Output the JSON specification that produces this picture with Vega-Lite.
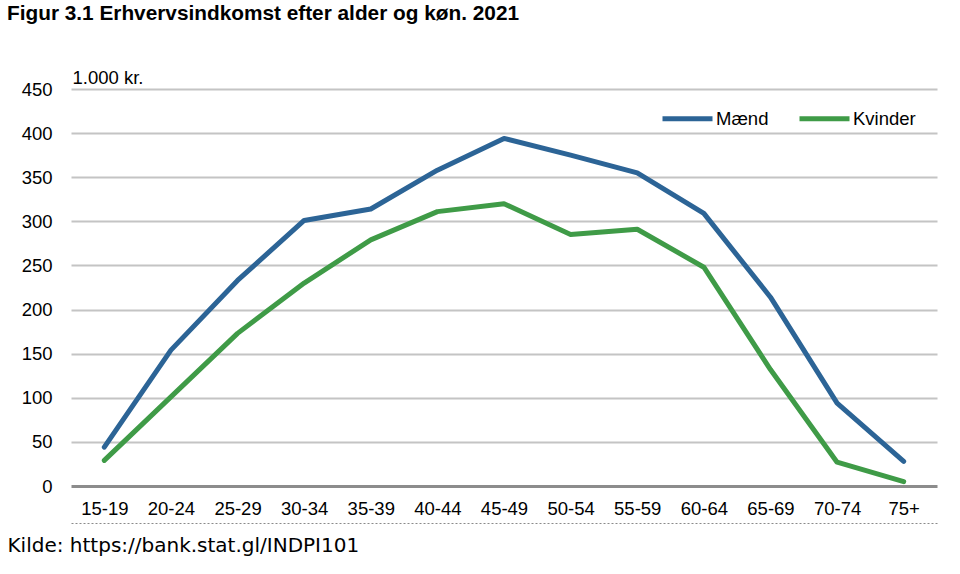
{
  "$schema": "https://vega.github.io/schema/vega-lite/v6.json",
  "width": 866,
  "height": 397,
  "autosize": {"type": "none"},
  "padding": {"left": 71, "top": 89, "right": 23, "bottom": 88},
  "background": "white",
  "title": {
    "text": "Figur 3.1 Erhvervsindkomst efter alder og køn. 2021",
    "anchor": "start",
    "frame": "group",
    "dx": -64,
    "offset": 43,
    "font": "Liberation Sans",
    "fontSize": 20.8,
    "fontWeight": "bold",
    "color": "#000000"
  },
  "config": {"view": {"stroke": null}},
  "data": {
    "values": [
      {"alder": "15-19", "køn": "Mænd", "værdi": 44},
      {"alder": "20-24", "køn": "Mænd", "værdi": 154},
      {"alder": "25-29", "køn": "Mænd", "værdi": 233},
      {"alder": "30-34", "køn": "Mænd", "værdi": 301},
      {"alder": "35-39", "køn": "Mænd", "værdi": 314},
      {"alder": "40-44", "køn": "Mænd", "værdi": 358},
      {"alder": "45-49", "køn": "Mænd", "værdi": 394},
      {"alder": "50-54", "køn": "Mænd", "værdi": 375},
      {"alder": "55-59", "køn": "Mænd", "værdi": 355},
      {"alder": "60-64", "køn": "Mænd", "værdi": 309},
      {"alder": "65-69", "køn": "Mænd", "værdi": 214},
      {"alder": "70-74", "køn": "Mænd", "værdi": 94},
      {"alder": "75+", "køn": "Mænd", "værdi": 28},
      {"alder": "15-19", "køn": "Kvinder", "værdi": 29},
      {"alder": "20-24", "køn": "Kvinder", "værdi": 101},
      {"alder": "25-29", "køn": "Kvinder", "værdi": 173},
      {"alder": "30-34", "køn": "Kvinder", "værdi": 230},
      {"alder": "35-39", "køn": "Kvinder", "værdi": 279},
      {"alder": "40-44", "køn": "Kvinder", "værdi": 311},
      {"alder": "45-49", "køn": "Kvinder", "værdi": 320},
      {"alder": "50-54", "køn": "Kvinder", "værdi": 285},
      {"alder": "55-59", "køn": "Kvinder", "værdi": 291},
      {"alder": "60-64", "køn": "Kvinder", "værdi": 248},
      {"alder": "65-69", "køn": "Kvinder", "værdi": 132},
      {"alder": "70-74", "køn": "Kvinder", "værdi": 27},
      {"alder": "75+", "køn": "Kvinder", "værdi": 5}
    ]
  },
  "mark": {"type": "line", "strokeWidth": 5, "strokeCap": "round", "strokeJoin": "round"},
  "encoding": {
    "x": {
      "field": "alder",
      "type": "ordinal",
      "sort": null,
      "scale": {"type": "point", "padding": 0.5},
      "axis": {
        "title": "Kilde: https://bank.stat.gl/INDPI101",
        "titleX": -64,
        "titleY": 28,
        "titleAlign": "left",
        "titleAnchor": "start",
        "titleBaseline": "alphabetic",
        "titleFont": "DejaVu Sans",
        "titleFontSize": 20,
        "titleFontWeight": "normal",
        "titleColor": "#000000",
        "offset": 37,
        "domain": true,
        "domainDash": [2, 2],
        "domainColor": "#8a8a8a",
        "domainWidth": 1,
        "ticks": false,
        "grid": false,
        "labelAngle": 0,
        "labelPadding": -24,
        "labelBaseline": "top",
        "labelFont": "Liberation Sans",
        "labelFontSize": 18.5,
        "labelColor": "#000000"
      }
    },
    "y": {
      "field": "værdi",
      "type": "quantitative",
      "scale": {"domain": [0, 450], "nice": false},
      "axis": {
        "values": [0, 50, 100, 150, 200, 250, 300, 350, 400, 450],
        "title": "1.000 kr.",
        "titleAngle": 0,
        "titleAlign": "left",
        "titleBaseline": "alphabetic",
        "titleX": 1,
        "titleY": -6,
        "titleFont": "Liberation Sans",
        "titleFontSize": 18.5,
        "titleFontWeight": "normal",
        "titleColor": "#000000",
        "domain": false,
        "ticks": false,
        "labelPadding": 19,
        "labelFont": "Liberation Sans",
        "labelFontSize": 18.5,
        "labelColor": "#000000",
        "grid": true,
        "gridColor": {"condition": {"test": "datum.value === 0", "value": "#8c8c8c"}, "value": "#c4c4c4"},
        "gridWidth": {"condition": {"test": "datum.value === 0", "value": 3}, "value": 2}
      }
    },
    "color": {
      "field": "køn",
      "type": "nominal",
      "sort": ["Mænd", "Kvinder"],
      "scale": {"domain": ["Mænd", "Kvinder"], "range": ["#2c6496", "#3f9b47"]},
      "legend": {
        "title": null,
        "orient": "none",
        "legendX": 589,
        "legendY": 2,
        "direction": "horizontal",
        "symbolType": "stroke",
        "symbolSize": 2500,
        "symbolStrokeWidth": 5,
        "labelFont": "Liberation Sans",
        "labelFontSize": 18.5,
        "labelColor": "#000000",
        "labelOffset": 1,
        "columnPadding": 20
      }
    }
  }
}
